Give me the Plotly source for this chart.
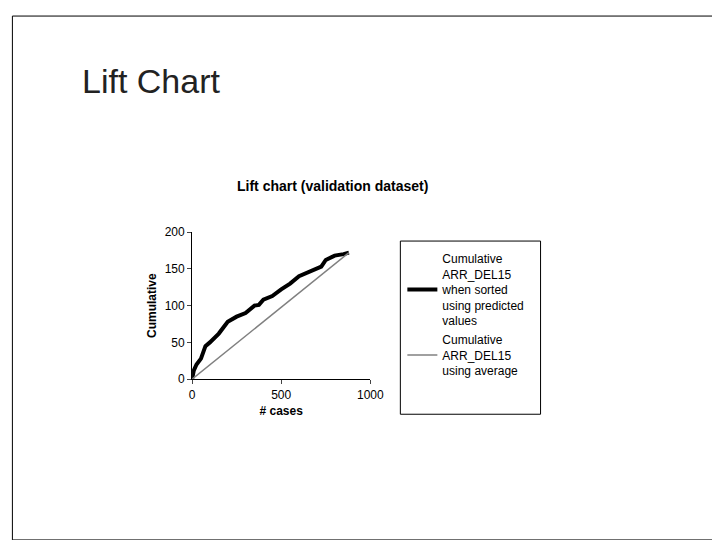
import plotly.graph_objects as go

cases = [0,10,25,50,75,100,150,200,250,300,350,375,400,450,500,550,600,650,700,725,750,800,850,880]
cum_model = [0,12,20,28,45,50,62,78,85,90,100,101,108,113,122,130,140,145,150,153,162,168,170,172]
avg_x = [0,880]
avg_y = [0,172]

W,H=720,540
def px(x): return min(max(((x-11.2)/0.975)/W,0),1)
def py(y): return min(max(1-((y-14.2)/0.973)/H,0),1)

fig = go.Figure()
fig.add_trace(go.Scatter(x=cases, y=cum_model, mode="lines", line=dict(color="black", width=4),
    name="Cumulative<br>ARR_DEL15<br>when sorted<br>using predicted<br>values"))
fig.add_trace(go.Scatter(x=avg_x, y=avg_y, mode="lines", line=dict(color="#808080", width=1.5),
    name="Cumulative<br>ARR_DEL15<br>using average"))
fig.update_layout(
    width=W, height=H, margin=dict(l=0,r=0,t=0,b=0),
    paper_bgcolor="white", plot_bgcolor="white",
    font=dict(family="Liberation Sans, Arial", color="black", size=12),
    xaxis=dict(domain=[px(192), px(370)], range=[0,1000], tickvals=[0,500,1000], showgrid=False,
               zeroline=False, showline=True, linecolor="black", ticks="outside", ticklen=4,
               title=dict(text="<b># cases</b>", font=dict(size=12), standoff=5)),
    yaxis=dict(domain=[py(378), py(231)], range=[0,200], tickvals=[0,50,100,150,200], showgrid=False,
               zeroline=False, showline=True, linecolor="black", ticks="outside", ticklen=4,
               title=dict(text="<b>Cumulative</b>", font=dict(size=12), standoff=5)),
    legend=dict(x=px(402), y=py(243), xanchor="left", yanchor="top", bgcolor="rgba(0,0,0,0)",
                font=dict(size=12), tracegroupgap=4),
    annotations=[
        dict(text="Lift Chart", x=px(80), y=py(80), xref="paper", yref="paper", xanchor="left",
             yanchor="middle", showarrow=False, font=dict(size=34, color="#222")),
        dict(text="<b>Lift chart (validation dataset)</b>", x=px(332), y=py(185), xref="paper", yref="paper",
             xanchor="center", yanchor="middle", showarrow=False, font=dict(size=14)),
    ],
    shapes=[
        dict(type="rect", xref="paper", yref="paper", x0=0.002, x1=0.998, y0=0.002, y1=0.998,
             line=dict(color="black", width=1)),
        dict(type="rect", xref="paper", yref="paper", x0=px(400), x1=px(540), y0=py(413), y1=py(240),
             line=dict(color="black", width=1)),
    ],
)
fig.write_html("out.html")
